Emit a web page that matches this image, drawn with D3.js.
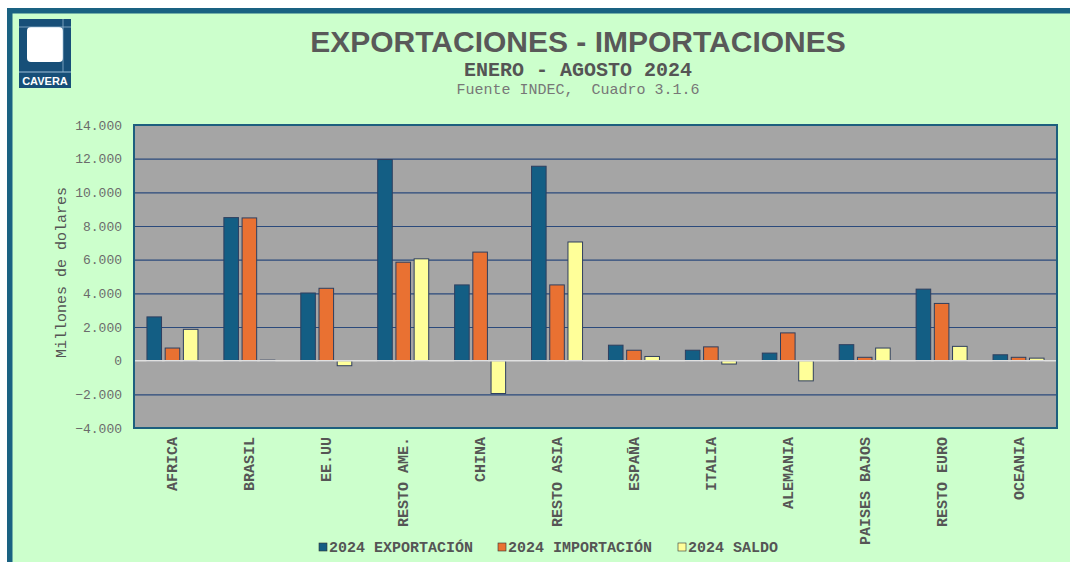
<!DOCTYPE html>
<html>
<head>
<meta charset="utf-8">
<script src="https://cdn.jsdelivr.net/npm/d3@7"></script>
<style>
  body { margin: 0; background: #fff; }
  text { font-family: "Liberation Mono", "Courier New", monospace; }
</style>
</head>
<body>
<div id="graph"></div>
<script>
var w = 1070, h = 562

var categories = ['AFRICA', 'BRASIL', 'EE.UU', 'RESTO AME.', 'CHINA', 'RESTO ASIA',
  'ESPAÑA', 'ITALIA', 'ALEMANIA', 'PAISES BAJOS', 'RESTO EURO', 'OCEANIA']
var exportacion = [2600, 8500, 4020, 11950, 4500, 11550, 920, 620, 450, 950, 4250, 350]
var importacion = [750, 8480, 4300, 5850, 6450, 4500, 620, 820, 1650, 200, 3400, 200]
var saldo = [1860, 30, -300, 6050, -1950, 7050, 250, -200, -1200, 750, 850, 150]
var seriesNames = ['2024 EXPORTACIÓN', '2024 IMPORTACIÓN', '2024 SALDO']
var yTicks = [-4000, -2000, 0, 2000, 4000, 6000, 8000, 10000, 12000, 14000]

var colours = ['#135e84', '#e97132', '#ffff99']

var data = categories.map(function(c, i) {
  return { cat: c, vals: [exportacion[i], importacion[i], saldo[i]] }
})

var svg = d3.select('#graph')
  .html('')
  .append('svg')
  .attr('width', w)
  .attr('height', h)

// page background + frame
svg.append('rect').attr('x', 7).attr('y', 8).attr('width', w - 7).attr('height', h - 8)
  .attr('fill', '#ccffcc')
svg.append('rect').attr('x', 7).attr('y', 8).attr('width', w - 7).attr('height', 5.5)
  .attr('fill', '#1a6282')
svg.append('rect').attr('x', 7).attr('y', 8).attr('width', 5.5).attr('height', h - 8)
  .attr('fill', '#1a6282')

// logo
var logo = svg.append('g').attr('transform', 'translate(19,19)')
logo.append('rect').attr('width', 52).attr('height', 69).attr('fill', '#174f78')
logo.append('rect').attr('x', 8).attr('y', 8).attr('width', 36).attr('height', 35)
  .attr('rx', 4).attr('fill', '#fff')
logo.append('line').attr('x1', 0).attr('x2', 52).attr('y1', 53).attr('y2', 53)
  .attr('stroke', '#9fc0d8').attr('stroke-width', 1)
logo.append('line').attr('x1', 44).attr('x2', 44).attr('y1', 0).attr('y2', 53)
  .attr('stroke', '#9fc0d8').attr('stroke-width', 0.7)
logo.append('line').attr('x1', 0).attr('x2', 52).attr('y1', 8).attr('y2', 8)
  .attr('stroke', '#9fc0d8').attr('stroke-width', 0.7)
logo.append('text').attr('x', 26).attr('y', 66).attr('text-anchor', 'middle')
  .style('font-family', '"Liberation Sans", Arial, sans-serif')
  .style('font-weight', 'bold').style('font-size', '11px').attr('fill', '#fff')
  .text('CAVERA')

// titles
svg.append('text').attr('x', 578).attr('y', 52).attr('text-anchor', 'middle')
  .style('font-family', '"Liberation Sans", Arial, sans-serif')
  .style('font-weight', 'bold').style('font-size', '30px').attr('fill', '#595959')
  .text('EXPORTACIONES - IMPORTACIONES')
svg.append('text').attr('x', 578).attr('y', 76).attr('text-anchor', 'middle')
  .style('font-weight', 'bold').style('font-size', '20px').attr('fill', '#555')
  .text('ENERO - AGOSTO 2024')
svg.append('text').attr('x', 578).attr('y', 94).attr('text-anchor', 'middle')
  .style('font-size', '15px').attr('fill', '#777')
  .attr('xml:space', 'preserve')
  .text('Fuente INDEC,  Cuadro 3.1.6')

// plot area
var pLeft = 134, pRight = 1057, pTop = 125, pBottom = 428

var x0 = d3.scaleBand().domain(categories).range([pLeft, pRight])
var x1 = d3.scaleBand().domain([0, 1, 2]).range([0, 51]).paddingInner(0.2)
var off = (x0.bandwidth() - 51) / 2
var y = d3.scaleLinear().domain([-4000, 14000]).range([pBottom, pTop])

svg.append('rect').attr('x', pLeft).attr('y', pTop)
  .attr('width', pRight - pLeft).attr('height', pBottom - pTop)
  .attr('fill', '#a5a5a5')

// gridlines
svg.append('g').selectAll('line')
  .data(yTicks.filter(function(d) { return d != 0 && d != 14000 && d != -4000 }))
  .enter().append('line')
  .attr('x1', pLeft).attr('x2', pRight)
  .attr('y1', function(d) { return y(d) + 0.5 }).attr('y2', function(d) { return y(d) + 0.5 })
  .attr('stroke', '#2b4a7c').attr('stroke-width', 1.2)

// y axis labels
var yAxis = d3.axisLeft(y).tickValues(yTicks).tickSize(0).tickPadding(12)
  .tickFormat(function(d) { return d3.format(',')(d).replace(/,/g, '.') })
var ya = svg.append('g').attr('transform', 'translate(' + pLeft + ',0)').call(yAxis)
ya.select('.domain').remove()
ya.selectAll('text').style('font-family', '"Liberation Mono", monospace')
  .style('font-size', '13px').attr('fill', '#6b6b6b')

svg.append('text')
  .attr('transform', 'translate(66,' + ((pTop + pBottom) / 2 - 4) + ') rotate(-90)')
  .attr('text-anchor', 'middle')
  .style('font-size', '15px').attr('fill', '#555')
  .text('Millones de dolares')

// bars
var groups = svg.append('g').selectAll('g')
  .data(data).enter().append('g')
  .attr('transform', function(d) { return 'translate(' + (x0(d.cat) + off) + ',0)' })

groups.selectAll('rect')
  .data(function(d) { return d.vals.map(function(v, i) { return { i: i, v: v } }) })
  .enter().append('rect')
  .attr('x', function(d) { return x1(d.i) })
  .attr('width', x1.bandwidth())
  .attr('y', function(d) { return y(Math.max(0, d.v)) })
  .attr('height', function(d) { return Math.abs(y(d.v) - y(0)) })
  .attr('fill', function(d) { return colours[d.i] })
  .attr('stroke', '#2f3f5f').attr('stroke-width', 1)

// zero line
svg.append('line').attr('x1', pLeft).attr('x2', pRight)
  .attr('y1', y(0)).attr('y2', y(0))
  .attr('stroke', '#e0e0e0').attr('stroke-width', 1.5)

// frame
svg.append('rect').attr('x', pLeft).attr('y', pTop)
  .attr('width', pRight - pLeft).attr('height', pBottom - pTop)
  .attr('fill', 'none').attr('stroke', '#1d5f7e').attr('stroke-width', 2)

// category labels
svg.append('g').selectAll('text')
  .data(categories).enter().append('text')
  .attr('transform', function(d) {
    return 'translate(' + (x0(d) + x0.bandwidth() / 2 + 5) + ',' + (pBottom + 9) + ') rotate(-90)'
  })
  .attr('text-anchor', 'end')
  .style('font-size', '15px').style('font-weight', 'bold').attr('fill', '#555')
  .text(function(d) { return d })

// legend
var legX = [319, 498, 678]
var leg = svg.append('g').selectAll('g')
  .data(seriesNames).enter().append('g')
  .attr('transform', function(d, i) { return 'translate(' + legX[i] + ',543)' })
leg.append('rect').attr('width', 8).attr('height', 8)
  .attr('fill', function(d, i) { return colours[i] })
  .attr('stroke', '#333').attr('stroke-width', 0.6)
leg.append('text').attr('x', 10).attr('y', 8.5)
  .style('font-size', '15px').style('font-weight', 'bold').attr('fill', '#555')
  .text(function(d) { return d })
</script>
</body>
</html>
